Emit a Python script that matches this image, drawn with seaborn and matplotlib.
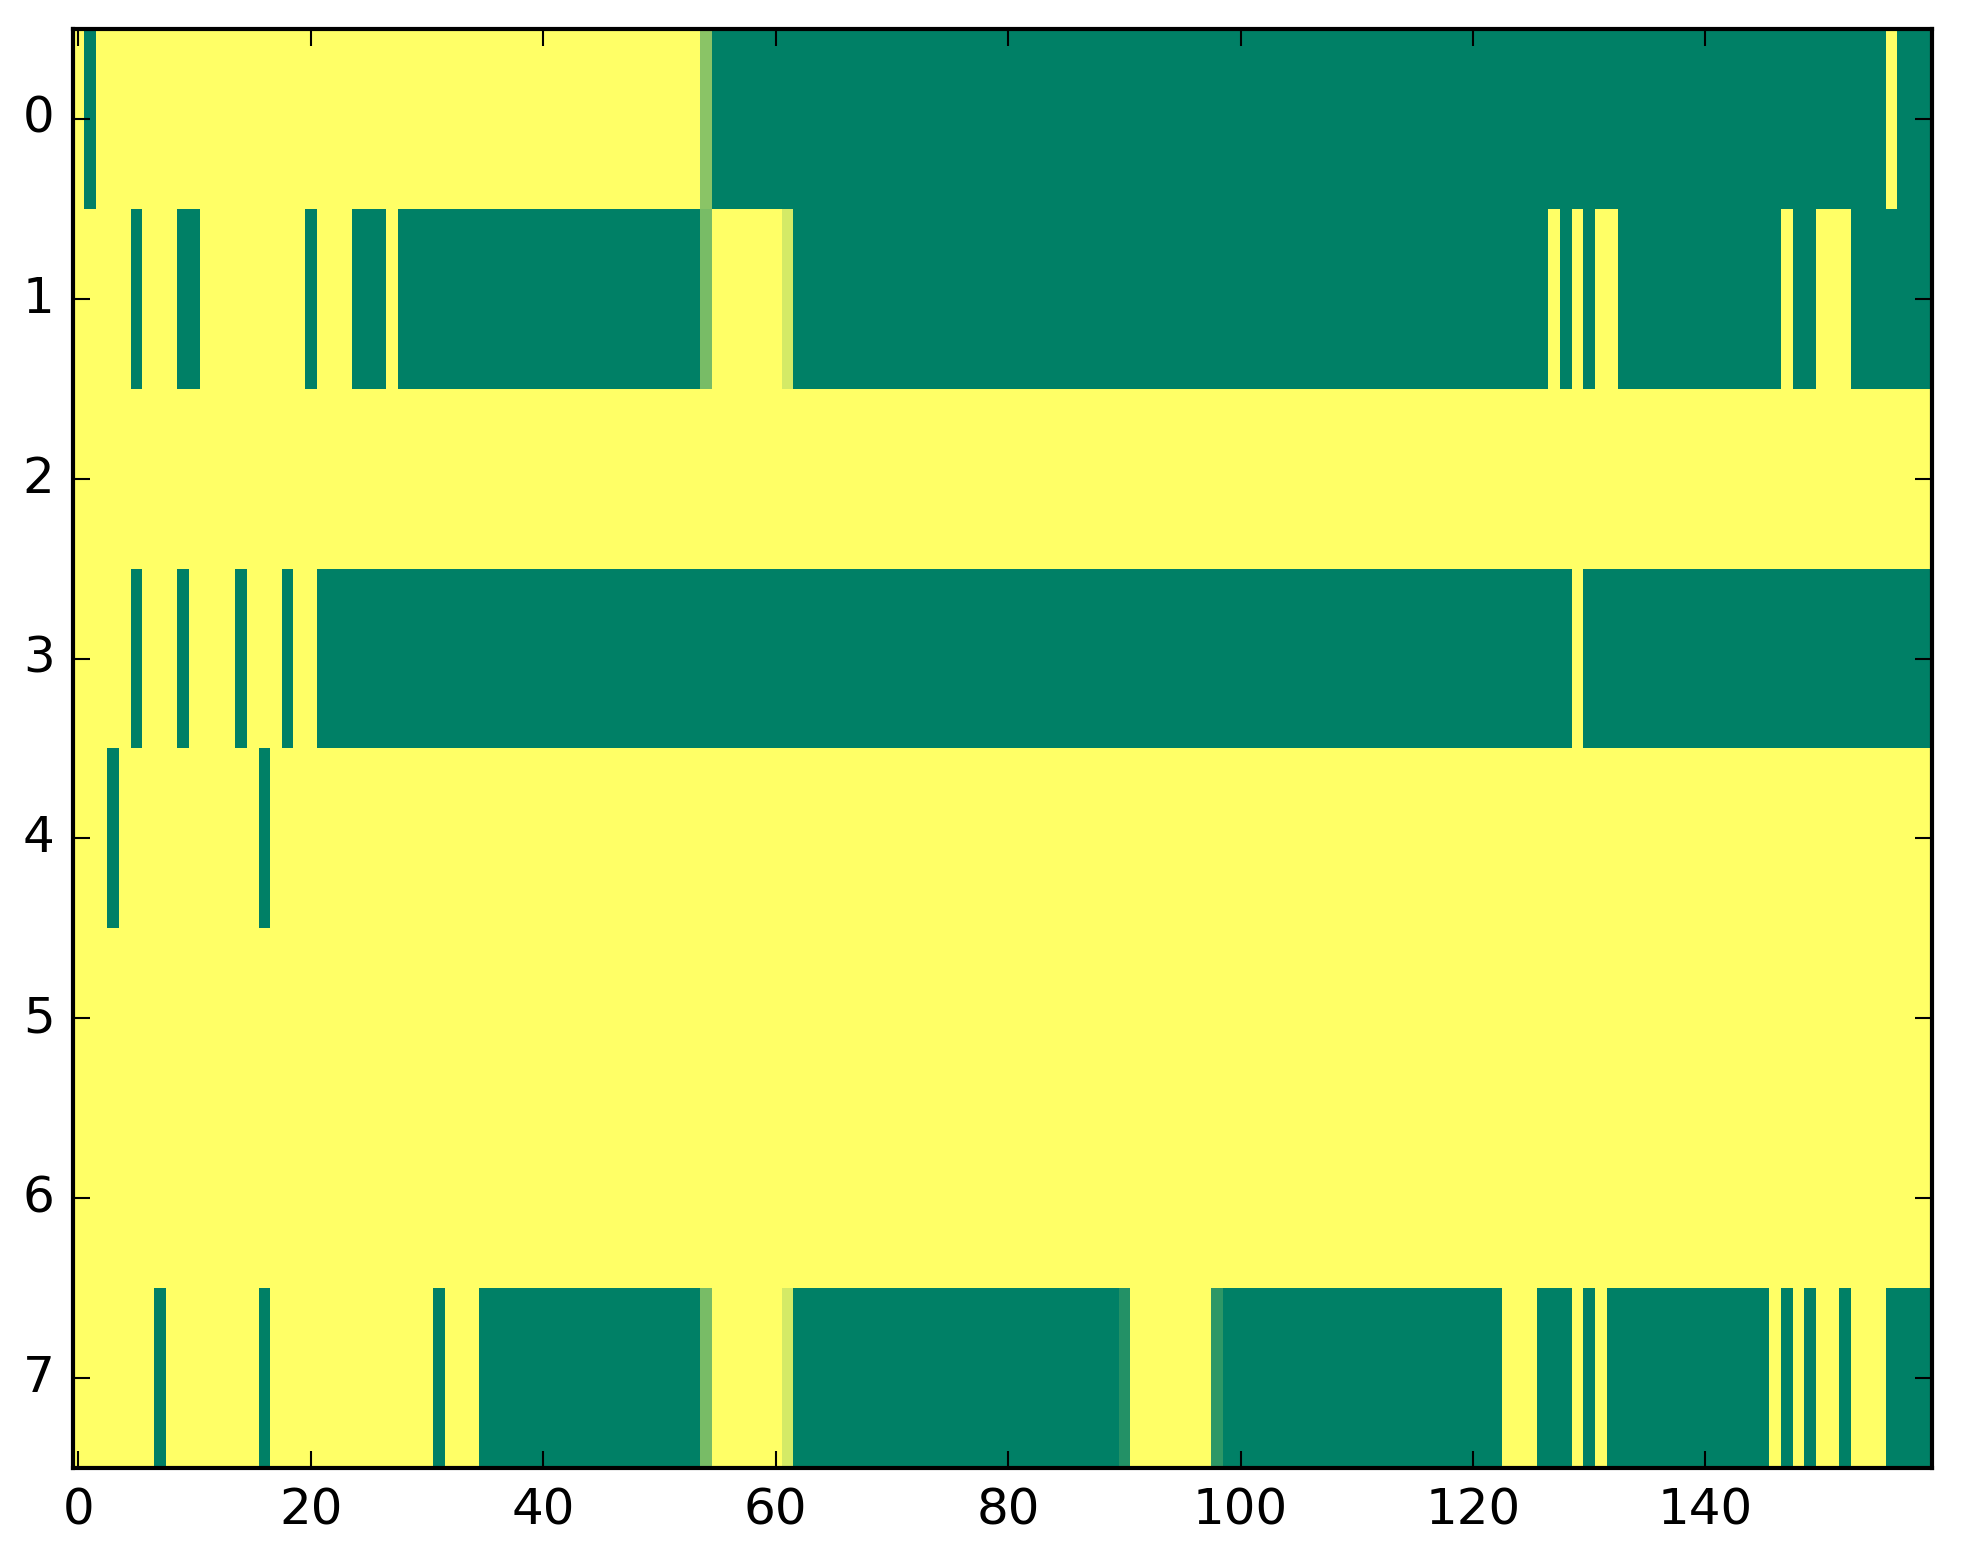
import matplotlib
matplotlib.use('Agg')
import matplotlib.pyplot as plt
import seaborn as sns
import numpy as np

# cell values: 1 = yellow, 0 = green, in-between = blend
Y = 1.0
G = 0.0

# each row as runs of (value, number of columns)
row_0 = [(Y, 1), (G, 1), (Y, 52), (0.54, 1), (G, 101), (Y, 1), (G, 3)]
row_1 = [(Y, 5), (G, 1), (Y, 3), (G, 2), (Y, 9), (G, 1), (Y, 3), (G, 3),
         (Y, 1), (G, 26), (0.47, 1), (Y, 6), (0.83, 1), (G, 65), (Y, 1),
         (G, 1), (Y, 1), (G, 1), (Y, 2), (G, 14), (Y, 1), (G, 2), (Y, 3),
         (G, 7)]
row_2 = [(Y, 160)]
row_3 = [(Y, 5), (G, 1), (Y, 3), (G, 1), (Y, 4), (G, 1), (Y, 3), (G, 1),
         (Y, 2), (G, 108), (Y, 1), (G, 30)]
row_4 = [(Y, 3), (G, 1), (Y, 12), (G, 1), (Y, 143)]
row_5 = [(Y, 160)]
row_6 = [(Y, 160)]
row_7 = [(Y, 7), (G, 1), (Y, 8), (G, 1), (Y, 14), (G, 1), (Y, 3), (G, 19),
         (0.47, 1), (Y, 6), (0.83, 1), (G, 28), (0.14, 1), (Y, 7), (0.18, 1),
         (G, 24), (Y, 3), (G, 3), (Y, 1), (G, 1), (Y, 1), (G, 14), (Y, 1),
         (G, 1), (Y, 1), (G, 1), (Y, 2), (G, 1), (Y, 3), (G, 4)]

rows = [row_0, row_1, row_2, row_3, row_4, row_5, row_6, row_7]

x_ticks = [0, 20, 40, 60, 80, 100, 120, 140]
y_ticks = [0, 1, 2, 3, 4, 5, 6, 7]


def expand(runs):
    """Turn a list of (value, count) runs into one row of cells"""
    return np.concatenate([np.full(n, v) for v, n in runs])


grid = np.vstack([expand(r) for r in rows])

sns.set_style('ticks')
plt.rcParams['font.family'] = ['DejaVu Sans']
plt.rcParams['axes.axisbelow'] = False

fig = plt.figure(figsize=(9.815, 7.82), dpi=200)
ax = fig.add_axes([0.037, 0.0614, 0.9472, 0.9201])

sns.heatmap(grid, cmap='summer', vmin=0, vmax=1, cbar=False, ax=ax)
ax.set_axisbelow(False)

# heatmap hides the frame, the reference has a full black box
for spine in ax.spines.values():
    spine.set_visible(True)
    spine.set_color('black')
    spine.set_linewidth(1.5)
    spine.set_zorder(5)

ax.set_xticks(np.array(x_ticks) + 0.5)
ax.set_xticklabels([str(t) for t in x_ticks], rotation=0)
ax.set_yticks(np.array(y_ticks) + 0.5)
ax.set_yticklabels([str(t) for t in y_ticks], rotation=0)

ax.tick_params(direction='in', top=True, right=True, bottom=True, left=True,
               length=6, width=0.75, color='black', labelcolor='black',
               labelsize=18, pad=6.5)

fig.savefig('out.png', dpi=200, facecolor='white')
